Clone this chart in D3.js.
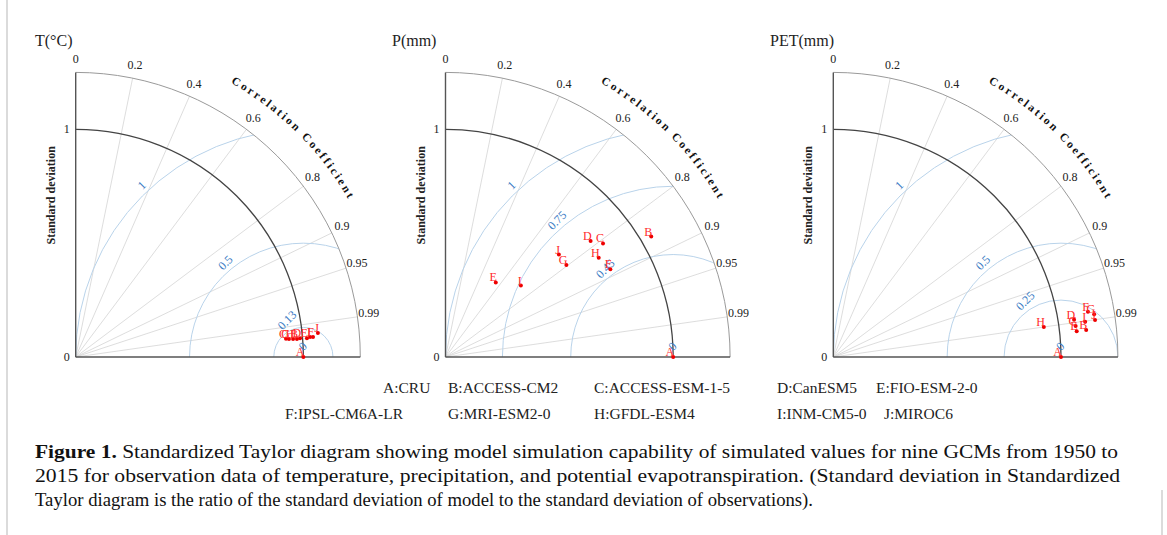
<!DOCTYPE html>
<html><head><meta charset="utf-8">
<script src="https://cdn.jsdelivr.net/npm/d3@7"></script>
<style>
body{margin:0;background:#fff}
svg, svg text{font-family:"Liberation Serif","Times New Roman","DejaVu Serif",serif}
</style>
</head><body>
<svg id="c" width="1167" height="535" font-family="Liberation Serif, Times New Roman, serif"></svg>
<script>
// ---------- data ----------
const modelKeys  = ["A","B","C","D","E","F","G","H","I","J"];
const modelNames = ["CRU","ACCESS-CM2","ACCESS-ESM-1-5","CanESM5","FIO-ESM-2-0","IPSL-CM6A-LR","MRI-ESM2-0","GFDL-ESM4","INM-CM5-0","MIROC6"];

// normalized standard deviation and correlation per model (A = observation)
const tStd    = [1, 0.975, 0.927, 0.989, 1.019, 1.046, 0.940, 0.958, 1.033, 1.069];
const tCorr   = [1, 0.9967, 0.9963, 0.9965, 0.9967, 0.9965, 0.9965, 0.9966, 0.9964, 0.9951];
const pStd    = [1, 1.047, 0.853, 0.816, 0.395, 0.820, 0.667, 0.802, 0.456, 0.671];
const pCorr   = [1, 0.863, 0.811, 0.781, 0.559, 0.883, 0.796, 0.839, 0.726, 0.742];
const petStd  = [1, 1.117, 1.073, 1.070, 1.075, 1.136, 1.161, 0.934, 1.117, 1.161];
const petCorr = [1, 0.9944, 0.9919, 0.9883, 0.9945, 0.9845, 0.9868, 0.9900, 0.9903, 0.9902];

const panelTitles = ["T(\u00B0C)", "P(mm)", "PET(mm)"];
const rmsT   = [1, 0.5, 0.13, 0];
const rmsP   = [1, 0.75, 0.45, 0];
const rmsPET = [1, 0.5, 0.25, 0];

const corrTicks  = [0, 0.2, 0.4, 0.6, 0.8, 0.9, 0.95, 0.99];
const corrLines  = [0.2, 0.4, 0.6, 0.8, 0.9, 0.95, 0.99];
const stdTicks   = [0, 1];
const stdMax     = 1.25;
const corrTitle  = "Correlation Coefficient";

const captionBold = "Figure 1.";
const captionLines = [
  " Standardized Taylor diagram showing model simulation capability of simulated values for nine GCMs from 1950 to",
  "2015 for observation data of temperature, precipitation, and potential evapotranspiration. (Standard deviation in Standardized",
  "Taylor diagram is the ratio of the standard deviation of model to the standard deviation of observations)."
];

// ---------- layout ----------
const FONT = "Liberation Serif, Times New Roman, serif";
const svg = d3.select("#c");
const OY = 357;
const R = 284.6;
const r = d3.scaleLinear().domain([0, stdMax]).range([0, R]);

const panels = [
  {title: panelTitles[0], std: tStd,   corr: tCorr,   rms: rmsT,   ox: 75.7,  titleX: 35},
  {title: panelTitles[1], std: pStd,   corr: pCorr,   rms: rmsP,   ox: 445.5, titleX: 392},
  {title: panelTitles[2], std: petStd, corr: petCorr, rms: rmsPET, ox: 833.3, titleX: 770}
];

// borders
svg.append("line").attr("x1",7).attr("x2",7).attr("y1",0).attr("y2",535)
  .attr("stroke","#cfcfcf").attr("stroke-width",1.5);
svg.append("line").attr("x1",1162).attr("x2",1162).attr("y1",490).attr("y2",535)
  .attr("stroke","#cfcfcf").attr("stroke-width",1.5);

const polar = (s, c) => { const t = Math.acos(c); return [r(s*Math.cos(t)), -r(s*Math.sin(t))]; };

// measure characters of the curved title
const TITLE_FS = 11.5, LS = 2.4;
const meas = svg.append("text").attr("font-family",FONT).attr("font-size",TITLE_FS).attr("font-weight","bold");
const charW = corrTitle.split("").map(ch => { meas.text(ch === " " ? "\u00A0" : ch); return meas.node().getComputedTextLength(); });
meas.remove();
const totalW = d3.sum(charW) + LS*(charW.length-1);

panels.forEach((p, pi) => {
  svg.append("text").attr("x", p.titleX).attr("y", 46).attr("font-family",FONT)
    .attr("font-size", 16).attr("fill","#222").text(p.title);

  const g = svg.append("g").attr("transform", `translate(${p.ox},${OY})`).attr("font-family",FONT);

  const cid = "clip" + pi;
  g.append("clipPath").attr("id", cid).append("path")
    .attr("d", `M0,0 L0,${-R} A${R},${R} 0 0 1 ${R},0 Z`);

  // correlation lines
  g.selectAll("line.corr").data(corrLines).join("line").attr("class","corr")
    .attr("x1",0).attr("y1",0)
    .attr("x2", d => R*d).attr("y2", d => -R*Math.sin(Math.acos(d)))
    .attr("stroke","#d4d4d4").attr("stroke-width",0.8);

  // RMS circles
  const rc = g.append("g").attr("clip-path", `url(#${cid})`);
  rc.selectAll("circle").data(p.rms.filter(d => d > 0)).join("circle")
    .attr("cx", r(1)).attr("cy", 0).attr("r", d => r(d))
    .attr("fill","none").attr("stroke","#b9d3ea").attr("stroke-width",1);

  // outer arc
  g.append("path").attr("d", `M0,${-R} A${R},${R} 0 0 1 ${R},0`)
    .attr("fill","none").attr("stroke","#9a9a9a").attr("stroke-width",1);
  // std = 1 arc
  const r1 = r(1);
  g.append("path").attr("d", `M0,${-r1} A${r1},${r1} 0 0 1 ${r1},0`)
    .attr("fill","none").attr("stroke","#444").attr("stroke-width",1.3);

  // axes
  g.append("line").attr("x1",0).attr("y1",0).attr("x2",0).attr("y2",-R).attr("stroke","#555").attr("stroke-width",1.4);
  g.append("line").attr("x1",0).attr("y1",0).attr("x2",R).attr("y2",0).attr("stroke","#555").attr("stroke-width",1.4);

  // std tick labels
  g.selectAll("text.std").data(stdTicks).join("text").attr("class","std")
    .attr("x",-6).attr("y", d => -r(d)).attr("dominant-baseline","central")
    .attr("text-anchor","end").attr("font-size",12).attr("fill","#222").text(d => d);

  // std axis title
  g.append("text").attr("transform", `translate(-25,${-r(0.71)}) rotate(-90)`)
    .attr("text-anchor","middle").attr("dominant-baseline","central")
    .attr("font-size",12).attr("font-weight","bold").attr("fill","#222").text("Standard deviation");

  // correlation tick labels
  const LR = 296;
  g.selectAll("text.ct").data(corrTicks).join("text").attr("class","ct")
    .attr("x", d => LR*d).attr("y", d => -LR*Math.sin(Math.acos(d)) - 2)
    .attr("text-anchor","middle").attr("dominant-baseline","central")
    .attr("font-size",12).attr("fill","#222").text(d => d);

  // curved title, one glyph at a time along the arc
  const TR = 315, midA = 45.35*Math.PI/180;
  const startA = midA + (totalW/2)/TR;
  let acc = 0;
  const glyphs = corrTitle.split("").map((ch, i) => {
    const centerS = acc + charW[i]/2;
    acc += charW[i] + LS;
    return {ch, a: startA - centerS/TR};
  }).filter(d => d.ch !== " ");
  g.selectAll("text.tt").data(glyphs).join("text").attr("class","tt")
    .attr("transform", d => `translate(${TR*Math.cos(d.a)},${-TR*Math.sin(d.a)}) rotate(${90 - d.a*180/Math.PI})`)
    .attr("text-anchor","middle").attr("font-size",TITLE_FS).attr("font-weight","bold").attr("fill","#111")
    .text(d => d.ch);

  // RMS labels
  const c45 = Math.SQRT1_2;
  g.selectAll("g.rl").data(p.rms).join("g").attr("class","rl")
    .attr("transform", d => `translate(${r(1) - r(d)*c45},${-r(d)*c45}) rotate(-45)`)
    .append("text").attr("x",4).attr("y",-8).attr("dominant-baseline","central")
    .attr("font-size",12).attr("fill","#3b7cc4").text(d => d);

  // points
  const pts = modelKeys.map((k, i) => ({k, xy: polar(p.std[i], p.corr[i])}));
  g.selectAll("circle.pt").data(pts).join("circle").attr("class","pt")
    .attr("cx", d => d.xy[0]).attr("cy", d => d.xy[1]).attr("r", 2).attr("fill","#ee0000");
  g.selectAll("text.pl").data(pts).join("text").attr("class","pl")
    .attr("x", d => d.xy[0] + 1).attr("y", d => d.xy[1] - 1).attr("text-anchor","end")
    .attr("font-size",12).attr("fill","#ff2b2b").text(d => d.k);
});

// legend
const legendRows = [[0,1,2,3,4],[5,6,7,8,9]];
const colX = [[383, 448, 594, 777, 876], [285, 448, 594, 777, 884]];
const rowY = [393, 419];
legendRows.forEach((row, ri) => {
  svg.selectAll(null).data(row).join("text")
    .attr("x", (d, j) => colX[ri][j]).attr("y", rowY[ri])
    .attr("font-family",FONT).attr("font-size",15.5).attr("fill","#222")
    .text(d => modelKeys[d] + ":" + modelNames[d]);
});

// caption
const capW = [1083, 1085, 778];
const capY = [458, 482, 506];
captionLines.forEach((line, i) => {
  const t = svg.append("text").attr("x",35).attr("y",capY[i]).attr("font-family",FONT)
    .attr("font-size",18.5).attr("fill","#111");
  if (i === 0) t.append("tspan").attr("font-weight","bold").text(captionBold);
  t.append("tspan").text(line);
  t.attr("textLength", capW[i]).attr("lengthAdjust","spacingAndGlyphs");
});
</script>
</body></html>
